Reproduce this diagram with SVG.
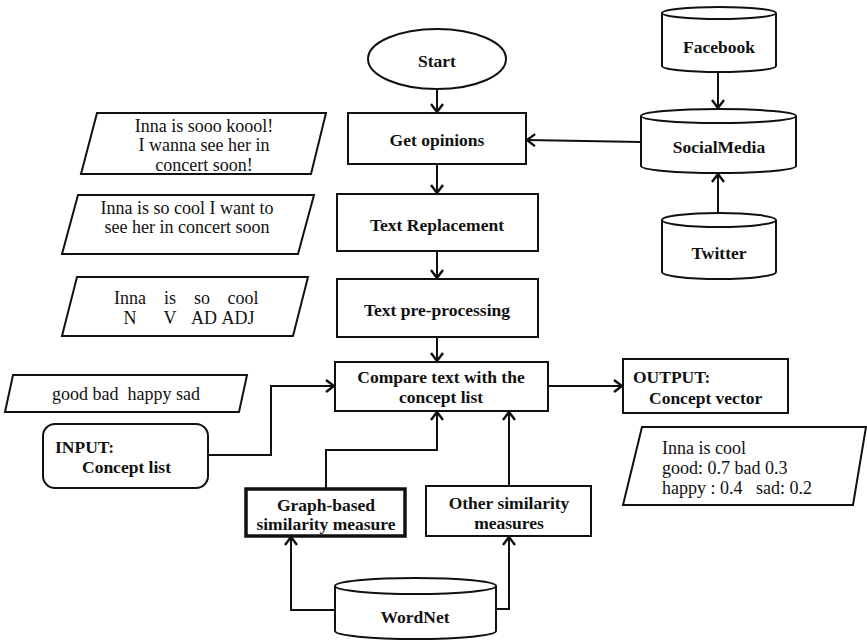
<svg xmlns="http://www.w3.org/2000/svg" width="867" height="642" viewBox="0 0 867 642">
  <style>
    .box { fill: #fff; stroke: #111; stroke-width: 2; }
    .thick { fill: #fff; stroke: #111; stroke-width: 3.5; }
    .t { font-family: "Liberation Serif", "DejaVu Serif", serif; font-size: 17.5px; font-weight: bold; fill: #111; }
    .r { font-family: "Liberation Serif", "DejaVu Serif", serif; font-size: 18px; fill: #111; }
    .mid { text-anchor: middle; }
    .conn { fill: none; stroke: #111; stroke-width: 2; }
  </style>
  <defs>
    <marker id="arrow" markerUnits="userSpaceOnUse" markerWidth="20" markerHeight="20" viewBox="-10 -10 20 20" refX="0" refY="0" orient="auto">
      <path d="M -8 -6 L 0 0 L -8 6" fill="none" stroke="#111" stroke-width="2.4" stroke-linejoin="miter"/>
    </marker>
  </defs>

  <rect width="867" height="642" fill="#fff"/>

  <!-- connectors -->
  <g id="connectors" class="conn">
    <path d="M437,89 V112" marker-end="url(#arrow)"/>
    <path d="M437,164 V193" marker-end="url(#arrow)"/>
    <path d="M437,251 V278" marker-end="url(#arrow)"/>
    <path d="M437,337 V361" marker-end="url(#arrow)"/>
    <path d="M641,142 L527,140" marker-end="url(#arrow)"/>
    <path d="M718,72 V108" marker-end="url(#arrow)"/>
    <path d="M718,213 V174" marker-end="url(#arrow)"/>
    <path d="M548,386 H622" marker-end="url(#arrow)"/>
    <path d="M208,455 H271 V386 H334" marker-end="url(#arrow)"/>
    <path d="M326,489 V450 H437 V412" marker-end="url(#arrow)"/>
    <path d="M509,486 V412" marker-end="url(#arrow)"/>
    <path d="M335,610 H291 V537" marker-end="url(#arrow)"/>
    <path d="M496,609 H509 V537" marker-end="url(#arrow)"/>
  </g>

  <!-- main flow -->
  <g id="start">
    <ellipse class="box" cx="437" cy="59" rx="69" ry="30"/>
    <text class="t mid" x="437" y="67">Start</text>
  </g>
  <g id="get-opinions">
    <rect class="box" x="348" y="113" width="178" height="51"/>
    <text class="t mid" x="437" y="146">Get opinions</text>
  </g>
  <g id="text-replacement">
    <rect class="box" x="337" y="194" width="201" height="57"/>
    <text class="t mid" x="437" y="231">Text Replacement</text>
  </g>
  <g id="text-preprocessing">
    <rect class="box" x="337" y="279" width="201" height="58"/>
    <text class="t mid" x="437" y="316">Text pre-processing</text>
  </g>
  <g id="compare">
    <rect class="box" x="335" y="362" width="213" height="49"/>
    <text class="t mid" x="441" y="383">Compare text with the</text>
    <text class="t mid" x="441" y="403">concept list</text>
  </g>
  <g id="output">
    <rect class="box" x="623" y="359" width="165" height="54"/>
    <text class="t" x="633" y="383">OUTPUT:</text>
    <text class="t" x="649" y="404">Concept vector</text>
  </g>
  <g id="input">
    <rect class="box" x="43" y="424" width="165" height="64" rx="12" ry="12"/>
    <text class="t" x="55" y="453">INPUT:</text>
    <text class="t" x="82" y="473">Concept list</text>
  </g>
  <g id="graph-based">
    <rect class="thick" x="246" y="489" width="159" height="47"/>
    <text class="t mid" x="326" y="511">Graph-based</text>
    <text class="t mid" x="326" y="530">similarity measure</text>
  </g>
  <g id="other-measures">
    <rect class="box" x="426" y="486" width="165" height="50"/>
    <text class="t mid" x="509" y="509">Other similarity</text>
    <text class="t mid" x="509" y="529">measures</text>
  </g>

  <!-- data stores -->
  <g id="facebook">
    <path class="box" d="M662,13 V66 A57,6 0 0 0 776,66 V13"/>
    <ellipse class="box" cx="719" cy="13" rx="57" ry="6"/>
    <text class="t mid" x="719" y="53">Facebook</text>
  </g>
  <g id="socialmedia">
    <path class="box" d="M641,116 V166 A77.5,7 0 0 0 796,166 V116"/>
    <ellipse class="box" cx="718.5" cy="116" rx="77.5" ry="7"/>
    <text class="t mid" x="719" y="153">SocialMedia</text>
  </g>
  <g id="twitter">
    <path class="box" d="M662,220 V272 A57,7 0 0 0 776,272 V220"/>
    <ellipse class="box" cx="719" cy="220" rx="57" ry="7"/>
    <text class="t mid" x="719" y="259">Twitter</text>
  </g>
  <g id="wordnet">
    <path class="box" d="M335,586 V631 A80.5,8 0 0 0 496,631 V586"/>
    <ellipse class="box" cx="415.5" cy="586" rx="80.5" ry="8"/>
    <text class="t mid" x="415" y="623">WordNet</text>
  </g>

  <!-- example data -->
  <g id="raw-opinion">
    <polygon class="box" points="97,113 326,113 311,174 81,174"/>
    <text class="r mid" x="204" y="132">Inna is sooo koool!</text>
    <text class="r mid" x="204" y="151">I wanna see her in</text>
    <text class="r mid" x="204" y="171">concert soon!</text>
  </g>
  <g id="replaced-opinion">
    <polygon class="box" points="78,195 314,195 298,254 62,254"/>
    <text class="r mid" x="187" y="214">Inna is so cool I want to</text>
    <text class="r mid" x="187" y="233">see her in concert soon</text>
  </g>
  <g id="tagged-opinion">
    <polygon class="box" points="77,277 308,277 293,336 62,336"/>
    <text class="r mid" x="130" y="304">Inna</text>
    <text class="r mid" x="170" y="304">is</text>
    <text class="r mid" x="202" y="304">so</text>
    <text class="r mid" x="243" y="304">cool</text>
    <text class="r mid" x="130" y="324">N</text>
    <text class="r mid" x="170" y="324">V</text>
    <text class="r mid" x="204" y="324">AD</text>
    <text class="r mid" x="238" y="324">ADJ</text>
  </g>
  <g id="concepts">
    <polygon class="box" points="13,375 247,375 239,412 5,412"/>
    <text class="r mid" x="126" y="400" xml:space="preserve">good bad  happy sad</text>
  </g>
  <g id="concept-vector">
    <polygon class="box" points="642,427 866,427 853,505 623,505"/>
    <text class="r" x="662" y="454">Inna is cool</text>
    <text class="r" x="662" y="474">good: 0.7 bad 0.3</text>
    <text class="r" x="662" y="494" xml:space="preserve">happy : 0.4   sad: 0.2</text>
  </g>
</svg>
